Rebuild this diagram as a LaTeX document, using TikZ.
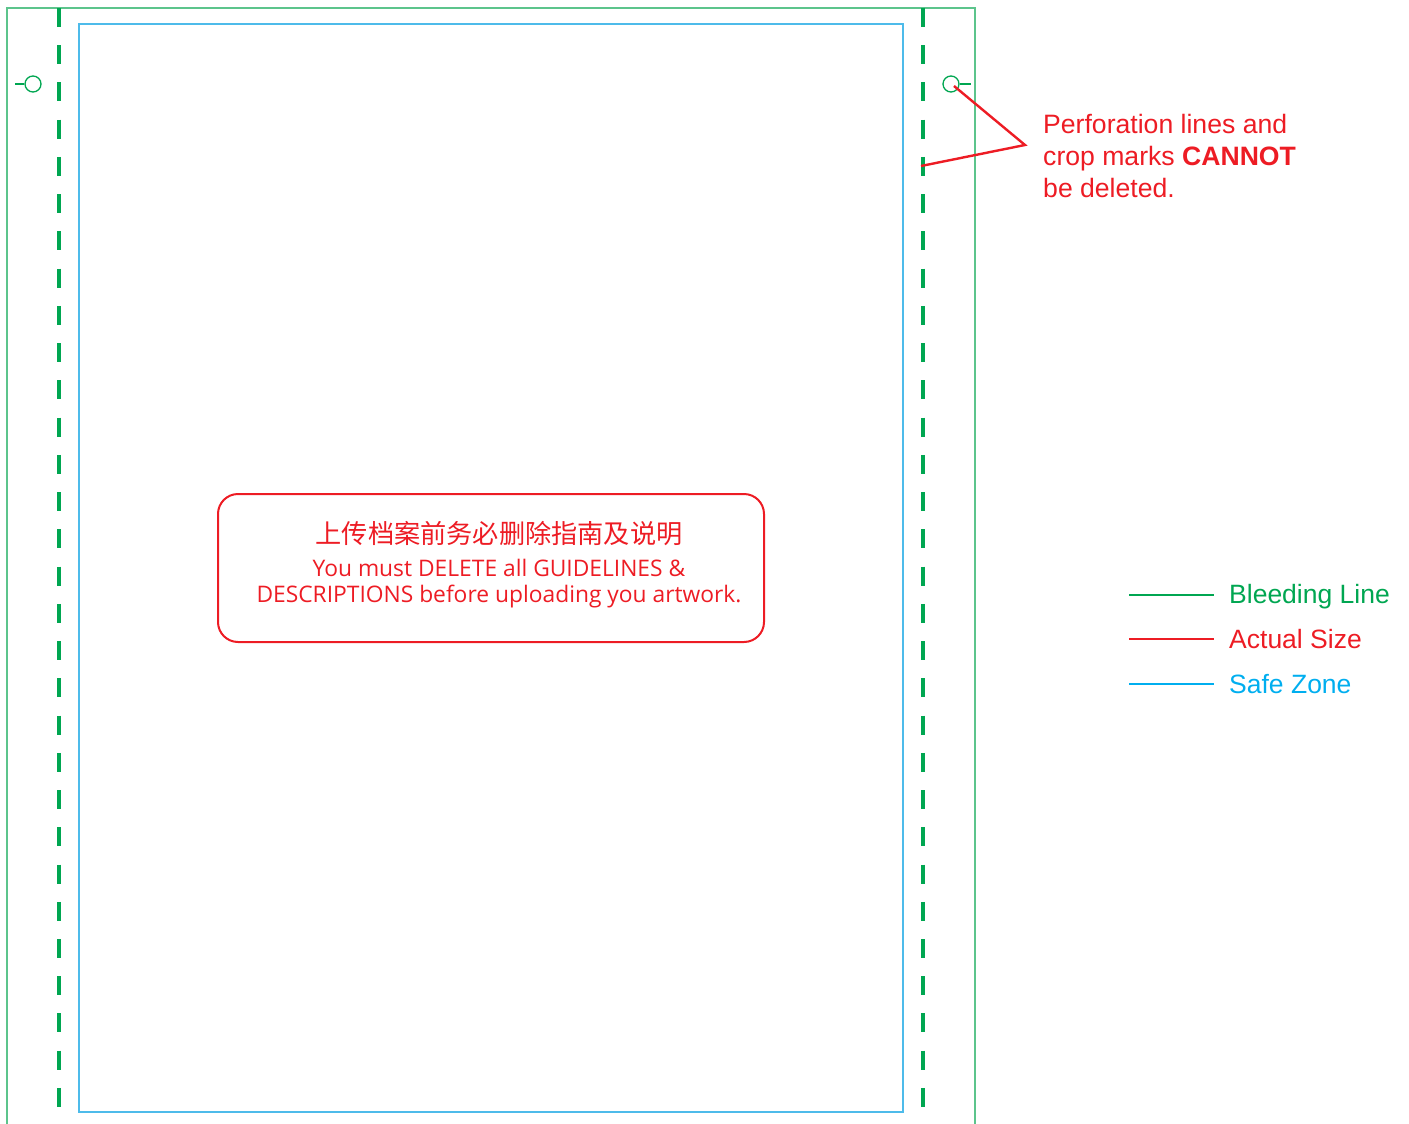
\documentclass[tikz,border=0pt]{standalone}
\usepackage{fontspec}
\setmainfont{Liberation Sans}
\newfontfamily\cjk{Noto Sans CJK SC}
\newfontfamily\boxfont{Open Sans}
\definecolor{bleed}{HTML}{00A651}
\definecolor{bleedlight}{HTML}{5CC48C}
\definecolor{cut}{HTML}{ED1C24}
\definecolor{safe}{HTML}{00AEEF}
\definecolor{safelight}{HTML}{4DBBEA}
\tikzset{
  outerframe/.style={draw=bleedlight, line width=1.6pt},
  safeframe/.style={draw=safelight, line width=1.5pt},
  perfline/.style={draw=bleed, line width=3.6pt, dash pattern=on 19pt off 18.24pt},
  cropmark/.style={circle, draw=bleed, line width=1.3pt, minimum size=16pt, inner sep=0pt},
  callout/.style={draw=cut, line width=2.4pt},
  note/.style={text=cut, font=\fontsize{26.6}{32}\selectfont, anchor=base west, inner sep=0pt},
  legline/.style={line width=2.8pt},
  legtext/.style={font=\fontsize{26.5}{30}\selectfont, anchor=base west, inner sep=0pt},
  warnbox/.style={draw=cut, line width=2pt, rounded corners=20pt},
}
\begin{document}
\begin{tikzpicture}[x=1pt, y=-1pt]
\useasboundingbox (0,0) rectangle (1409,1124);
% outer bleed frame (open at bottom)
\draw[outerframe] (7,1124) -- (7,8) -- (975,8) -- (975,1124);
% safe zone
\draw[safeframe] (79,24) rectangle (903,1112);
% perforation lines
\coordinate (pl1) at (59,8);
\coordinate (pl2) at (59,1124);
\coordinate (pr1) at (923,8);
\coordinate (pr2) at (923,1124);
\draw[perfline] (pl1) -- (pl2);
\draw[perfline] (pr1) -- (pr2);
% crop marks
\node[cropmark] (cL) at (33,84) {};
\coordinate (cLt) at (15,84);
\draw[draw=bleed, line width=1.3pt] (cL.west) -- (cLt);
\node[cropmark] (cR) at (951,84) {};
\coordinate (cRt) at (971,84);
\draw[draw=bleed, line width=1.3pt] (cR.east) -- (cRt);
% callout
\coordinate (tip) at (1025,145);
\coordinate (perf) at (921,166);
\draw[callout, line join=miter] (954,86) -- (tip) -- (perf);
\node[note] (n1) at (1043,133) {Perforation lines and};
\node[note] (n2) at (1043,165) {crop marks \textbf{CANNOT}};
\node[note] (n3) at (1043,197) {be deleted.};
% warning box
\draw[warnbox] (218,494) rectangle (764,642);
\node[text=cut, font=\cjk\fontsize{26.2}{30}\selectfont, anchor=base, inner sep=0pt] (w0) at (499,543) {上传档案前务必删除指南及说明};
\node[text=cut, font=\boxfont\fontsize{22.8}{26}\selectfont, anchor=base, inner sep=0pt] (w1) at (499,576) {You must DELETE all GUIDELINES \&};
\node[text=cut, font=\boxfont\fontsize{22.8}{26}\selectfont, anchor=base, inner sep=0pt] (w2) at (499,602) {DESCRIPTIONS before uploading you artwork.};
% legend
\coordinate (lg1a) at (1129,595); \coordinate (lg1b) at (1214,595);
\coordinate (lg2a) at (1129,639); \coordinate (lg2b) at (1214,639);
\coordinate (lg3a) at (1129,684); \coordinate (lg3b) at (1214,684);
\draw[legline, draw=bleed] (lg1a) -- (lg1b);
\draw[legline, draw=cut] (lg2a) -- (lg2b);
\draw[legline, draw=safe] (lg3a) -- (lg3b);
\node[legtext, text=bleed] (l1) at (1229,603) {Bleeding Line};
\node[legtext, text=cut] (l2) at (1229,648) {Actual Size};
\node[legtext, text=safe] (l3) at (1229,693) {Safe Zone};
\end{tikzpicture}
\end{document}
